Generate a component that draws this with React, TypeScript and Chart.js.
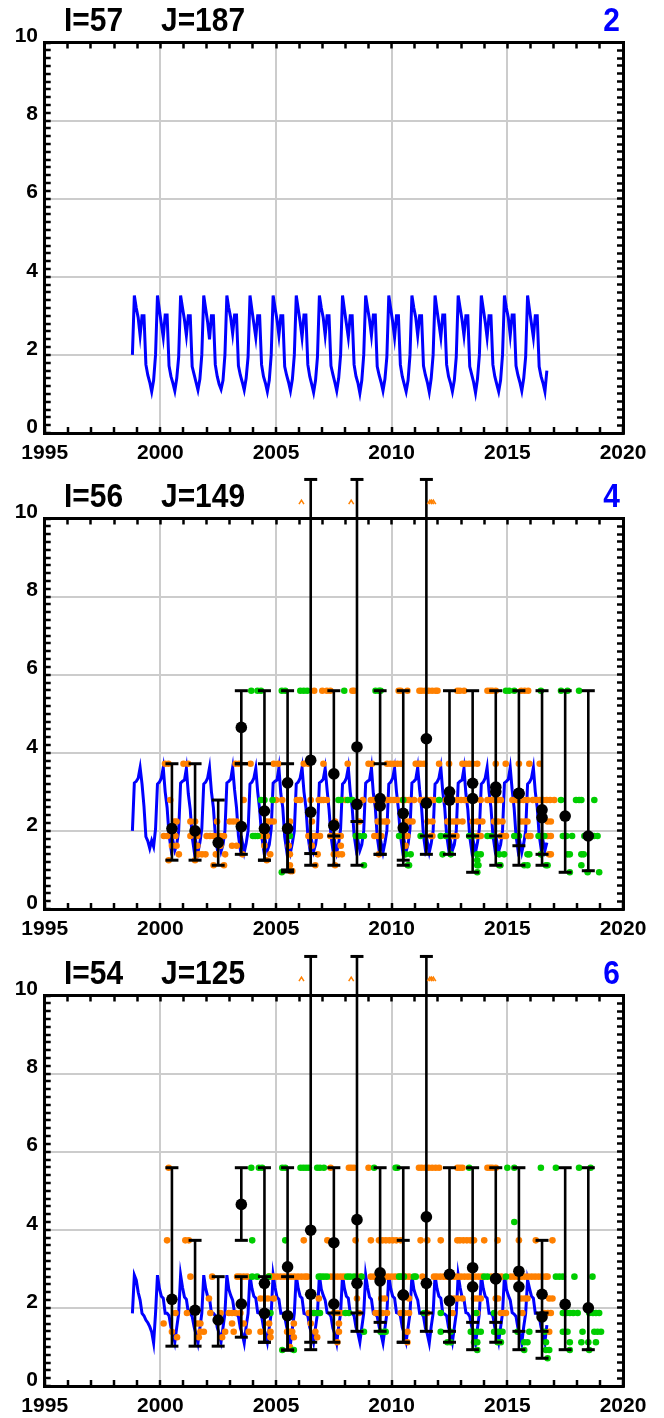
import React, { useEffect, useRef } from 'react';
import { Chart, registerables } from 'chart.js';

Chart.register(...registerables);

// ---------- axes ----------
const xMin = 1995;
const xMax = 2020;
const yMin = 0;
const yMax = 10;
const xTickLabels = [1995, 2000, 2005, 2010, 2015, 2020];
const yTickLabels = [0, 2, 4, 6, 8, 10];
const startYear = 1998 + 9.5 / 12; // first monthly value: Oct 1998

// ---------- panel 1 (I=57 J=187) ----------
const p1Blue = [
  2.0,
  3.52, 3.2, 2.95, 2.5, 3.0, 3.0, 1.75, 1.48, 1.3, 1.06, 1.35, 2.0,
  3.52, 3.15, 2.8, 2.45, 3.02, 3.02, 1.72, 1.45, 1.28, 1.08, 1.4, 1.95,
  3.52, 3.2, 2.9, 2.5, 3.0, 3.0, 1.7, 1.5, 1.3, 1.1, 1.38, 2.0,
  3.52, 3.18, 2.85, 2.4, 3.0, 3.0, 1.75, 1.45, 1.25, 1.12, 1.35, 2.0,
  3.52, 3.2, 2.95, 2.55, 3.02, 3.02, 1.72, 1.48, 1.3, 1.1, 1.4, 1.95,
  3.52, 3.15, 2.8, 2.45, 3.0, 3.0, 1.75, 1.45, 1.28, 1.06, 1.35, 2.0,
  3.52, 3.2, 2.9, 2.5, 3.0, 3.0, 1.7, 1.48, 1.3, 1.08, 1.38, 2.0,
  3.52, 3.18, 2.85, 2.45, 3.02, 3.02, 1.75, 1.45, 1.25, 1.04, 1.35, 1.95,
  3.52, 3.2, 2.95, 2.5, 3.0, 3.0, 1.72, 1.5, 1.3, 1.08, 1.4, 2.0,
  3.52, 3.15, 2.8, 2.45, 3.0, 3.0, 1.75, 1.45, 1.28, 1.02, 1.35, 2.0,
  3.52, 3.2, 2.9, 2.5, 3.02, 3.02, 1.7, 1.48, 1.3, 1.08, 1.38, 1.95,
  3.52, 3.18, 2.85, 2.45, 3.0, 3.0, 1.75, 1.45, 1.25, 1.06, 1.35, 2.0,
  3.52, 3.2, 2.95, 2.5, 3.0, 3.0, 1.72, 1.48, 1.3, 1.05, 1.4, 2.0,
  3.52, 3.15, 2.8, 2.45, 3.02, 3.02, 1.75, 1.45, 1.28, 1.06, 1.35, 1.95,
  3.52, 3.2, 2.9, 2.5, 3.0, 3.0, 1.7, 1.5, 1.3, 1.03, 1.38, 2.0,
  3.52, 3.18, 2.85, 2.45, 3.0, 3.0, 1.75, 1.45, 1.25, 1.06, 1.35, 2.0,
  3.52, 3.2, 2.95, 2.5, 3.02, 3.02, 1.72, 1.48, 1.3, 1.08, 1.4, 1.95,
  3.52, 3.15, 2.8, 2.45, 3.0, 3.0, 1.7, 1.45, 1.28, 1.06, 1.6,
];

// ---------- panel 2 (I=56 J=149) ----------
const p2Blue = [
  2.0,
  3.23, 3.27, 3.35, 3.62, 3.2, 2.63, 1.85, 1.74, 1.55, 1.75, 1.6, 2.05,
  3.2, 3.25, 3.35, 3.62, 3.0, 2.6, 1.9, 1.55, 1.75, 1.5, 1.65, 2.0,
  3.22, 3.27, 3.3, 3.6, 2.95, 2.55, 1.85, 1.5, 1.7, 1.45, 1.7, 2.05,
  3.2, 3.25, 3.35, 3.62, 3.0, 2.6, 1.9, 1.55, 1.75, 1.48, 1.65, 2.0,
  3.23, 3.27, 3.32, 3.62, 3.05, 2.6, 1.88, 1.52, 1.72, 1.45, 1.68, 2.0,
  3.2, 3.25, 3.35, 3.6, 3.0, 2.55, 1.9, 1.55, 1.75, 1.5, 1.65, 2.05,
  3.22, 3.27, 3.3, 3.62, 2.95, 2.6, 1.85, 1.5, 1.7, 1.45, 1.7, 2.0,
  3.2, 3.25, 3.35, 3.62, 3.0, 2.6, 1.9, 1.55, 1.75, 1.48, 1.65, 2.0,
  3.23, 3.27, 3.32, 3.6, 3.05, 2.55, 1.88, 1.52, 1.72, 1.45, 1.68, 2.05,
  3.2, 3.25, 3.35, 3.62, 3.0, 2.6, 1.9, 1.55, 1.75, 1.5, 1.65, 2.0,
  3.22, 3.27, 3.3, 3.62, 2.95, 2.6, 1.85, 1.5, 1.7, 1.45, 1.7, 2.0,
  3.2, 3.25, 3.35, 3.6, 3.0, 2.55, 1.9, 1.55, 1.75, 1.48, 1.65, 2.05,
  3.23, 3.27, 3.32, 3.62, 3.05, 2.6, 1.88, 1.52, 1.72, 1.45, 1.68, 2.0,
  3.2, 3.25, 3.35, 3.62, 3.0, 2.6, 1.9, 1.55, 1.75, 1.5, 1.65, 2.0,
  3.22, 3.27, 3.3, 3.6, 2.95, 2.55, 1.85, 1.5, 1.7, 1.45, 1.7, 2.05,
  3.2, 3.25, 3.35, 3.62, 3.0, 2.6, 1.9, 1.55, 1.75, 1.48, 1.65, 2.0,
  3.23, 3.27, 3.32, 3.62, 3.05, 2.6, 1.88, 1.52, 1.72, 1.45, 1.68, 2.0,
  3.2, 3.25, 3.35, 3.62, 3.0, 2.6, 1.9, 1.55, 1.75, 1.5, 1.7,
];

const p2OrangeLevels = [5.59, 3.72, 2.79, 2.24, 1.87, 1.62, 1.40, 1.25, 1.12, 0.97];
const p2OrangeYears = [
  [2006.65, 2007.0, 2007.2, 2007.35, 2008.3, 2008.38, 2010.3, 2010.39, 2010.68, 2011.2, 2011.3, 2011.45, 2011.6, 2011.75, 2011.9, 2011.98, 2012.84, 2012.95, 2013.13, 2014.14, 2014.25, 2014.35, 2014.5, 2015.6, 2015.75, 2015.9],
  [2000.2, 2000.35, 2001.0, 2001.2, 2003.25, 2003.4, 2003.9, 2004.9, 2005.1, 2006.2, 2006.4, 2007.05, 2008.1, 2009.0, 2009.15, 2009.8, 2009.95, 2010.1, 2010.25, 2010.4, 2011.04, 2011.15, 2011.25, 2011.4, 2012.05, 2012.48, 2013.06, 2013.2, 2013.35, 2013.5, 2013.7, 2014.5, 2014.93, 2015.5, 2015.95, 2016.4],
  [2000.43, 2003.6, 2005.0, 2005.27, 2005.9, 2006.05, 2006.5, 2006.85, 2006.95, 2007.05, 2007.2, 2008.0, 2008.75, 2009.1, 2009.25, 2009.4, 2009.8, 2009.95, 2010.1, 2010.25, 2010.46, 2010.6, 2010.75, 2010.97, 2011.25, 2011.4, 2011.55, 2011.7, 2011.83, 2012.34, 2012.63, 2012.84, 2013.0, 2013.15, 2013.3, 2013.45, 2013.6, 2013.85, 2014.14, 2014.3, 2014.45, 2014.6, 2014.72, 2015.22, 2015.4, 2015.55, 2015.7, 2015.87, 2016.1, 2016.25, 2016.4, 2016.55, 2016.7, 2016.85, 2017.03],
  [2000.6, 2000.7, 2001.3, 2001.5, 2002.45, 2003.0, 2003.15, 2003.3, 2004.6, 2004.75, 2004.9, 2005.6, 2006.55, 2007.55, 2008.6, 2009.4, 2009.55, 2009.7, 2009.8, 2010.6, 2010.75, 2010.9, 2011.55, 2011.76, 2012.41, 2012.55, 2012.7, 2012.85, 2013.06, 2013.5, 2013.7, 2013.92, 2014.43, 2014.6, 2014.79, 2015.6, 2015.75, 2015.87, 2016.74, 2016.88],
  [2000.15, 2000.3, 2000.65, 2001.3, 2001.6, 2002.0, 2002.15, 2002.3, 2002.5, 2002.6, 2002.75, 2004.35, 2004.45, 2004.6, 2006.4, 2006.55, 2006.7, 2006.9, 2007.35, 2007.5, 2007.65, 2007.8, 2009.25, 2009.4, 2009.55, 2010.39, 2010.55, 2010.68, 2011.7, 2011.76, 2012.65, 2012.8, 2013.7, 2013.85, 2014.72, 2014.85, 2014.94, 2015.9, 2016.0, 2016.74, 2016.88],
  [2000.5, 2000.7, 2001.6, 2002.6, 2003.1, 2003.3, 2004.5, 2005.55, 2006.55, 2007.8, 2010.6],
  [2000.8, 2001.65, 2001.8, 2001.95, 2002.4, 2002.8, 2003.55, 2004.75, 2005.6, 2006.8, 2007.5, 2007.7, 2007.85, 2009.45, 2016.8, 2016.88],
  [2000.36, 2001.5, 2004.6],
  [2002.3, 2002.75, 2005.6, 2006.7, 2007.55],
  [2005.62, 2005.7],
];
const p2GreenLevels = [5.59, 2.79, 1.87, 1.40, 1.25, 1.12, 0.94];
const p2GreenYears = [
  [2003.93, 2004.2, 2004.35, 2005.25, 2005.4, 2006.05, 2006.2, 2006.35, 2007.95, 2009.3, 2009.45, 2009.52, 2014.94, 2015.08, 2015.3, 2016.45, 2017.32, 2017.6, 2018.1],
  [2004.35, 2004.5, 2004.85, 2007.7, 2007.8, 2008.1, 2008.3, 2010.5, 2012.05, 2017.32, 2017.97, 2018.1, 2018.2, 2018.76],
  [2004.0, 2004.1, 2004.2, 2005.6, 2008.45, 2008.6, 2008.8, 2010.32, 2011.25, 2012.12, 2012.34, 2013.35, 2013.5, 2014.14, 2014.3, 2015.3, 2015.5, 2016.35, 2016.5, 2016.6, 2017.4, 2017.55, 2017.8, 2018.33, 2018.5, 2018.75, 2018.9],
  [2010.6, 2010.82, 2012.2, 2012.55, 2013.7, 2013.85, 2014.65, 2014.86, 2015.87, 2015.95, 2016.45, 2017.6, 2017.7, 2018.2, 2018.3],
  [2013.7],
  [2008.8, 2010.7, 2010.75, 2013.7, 2013.75, 2014.65, 2014.7, 2015.73, 2015.87, 2016.67, 2016.74, 2018.2],
  [2005.25, 2013.7, 2017.7, 2018.47, 2018.97],
];
const barYears = [2000.5, 2001.5, 2002.5, 2003.5, 2004.5, 2005.5, 2006.5, 2007.5, 2008.5, 2009.5, 2010.5, 2011.5, 2012.5, 2013.5, 2014.5, 2015.5, 2016.5, 2017.5, 2018.5];
const p2MeanA = [2.06, 2.0, 1.70, 4.65, 2.51, 3.23, 3.81, 3.46, 4.15, 2.83, 2.45, 4.36, 3.0, 3.22, 3.12, 2.96, 2.54, 2.38, 1.87];
const p2LoA = [1.25, 1.25, 1.12, 3.72, 1.25, 0.95, 1.12, 1.87, 2.24, 1.40, 1.12, 1.87, 1.40, 0.94, 1.12, 1.12, 1.12, 0.94, 0.98];
const p2HiA = [3.72, 3.72, 2.79, 5.59, 5.59, 5.59, 11.0, 5.59, 11.0, 5.59, 5.59, 11.0, 5.59, 5.59, 5.59, 5.59, 5.59, 5.59, 5.59];
const p2MeanB = [null, null, null, 2.11, 2.06, 2.06, 2.48, 2.14, 2.68, 2.64, 2.08, 2.71, 2.79, 2.83, 3.0, 2.96, 2.34, null, null];
const p2LoB = [null, null, null, 1.40, 1.25, 1.0, 1.42, 1.12, 1.12, 1.40, 1.25, 1.40, 1.87, 1.87, 1.87, 1.62, 1.40, null, null];
const p2HiB = [null, null, null, 3.72, 3.72, 3.72, null, null, null, 3.72, null, null, null, null, null, null, null, null, null];
const offScaleYears = [2006.1, 2008.25, 2011.65, 2011.72, 2011.8];
const offScaleValue = 10.42;

// ---------- panel 3 (I=54 J=125) ----------
const p3Blue = [
  1.86,
  2.84, 2.71, 2.4, 2.2, 1.86, 1.8, 1.69, 1.62, 1.52, 1.38, 1.1, 1.86,
  2.84, 2.5, 2.3, 2.25, 1.86, 1.86, 1.8, 1.5, 1.35, 1.12, 1.5, 1.86,
  2.84, 2.52, 2.28, 2.22, 1.88, 1.86, 1.78, 1.52, 1.32, 1.1, 1.48, 1.86,
  2.84, 2.5, 2.3, 2.25, 1.86, 1.86, 1.8, 1.5, 1.35, 1.14, 1.5, 1.86,
  2.84, 2.48, 2.32, 2.2, 1.86, 1.84, 1.78, 1.48, 1.33, 1.1, 1.52, 1.86,
  2.84, 2.5, 2.3, 2.25, 1.88, 1.86, 1.8, 1.5, 1.35, 1.12, 1.5, 1.86,
  2.84, 2.52, 2.28, 2.22, 1.86, 1.86, 1.78, 1.52, 1.32, 1.08, 1.48, 1.86,
  2.84, 2.5, 2.3, 2.25, 1.86, 1.84, 1.8, 1.5, 1.35, 1.12, 1.5, 1.86,
  2.84, 2.48, 2.32, 2.2, 1.88, 1.86, 1.78, 1.48, 1.33, 1.1, 1.52, 1.86,
  2.84, 2.5, 2.3, 2.25, 1.86, 1.86, 1.8, 1.5, 1.35, 1.12, 1.5, 1.86,
  2.84, 2.52, 2.28, 2.22, 1.86, 1.84, 1.78, 1.52, 1.32, 1.1, 1.48, 1.86,
  2.84, 2.5, 2.3, 2.25, 1.88, 1.86, 1.8, 1.5, 1.35, 1.14, 1.5, 1.86,
  2.84, 2.48, 2.32, 2.2, 1.86, 1.86, 1.78, 1.48, 1.33, 1.1, 1.52, 1.86,
  2.84, 2.5, 2.3, 2.25, 1.86, 1.84, 1.8, 1.5, 1.35, 1.12, 1.5, 1.86,
  2.84, 2.52, 2.28, 2.22, 1.88, 1.86, 1.78, 1.52, 1.32, 1.08, 1.48, 1.86,
  2.84, 2.5, 2.3, 2.25, 1.86, 1.86, 1.8, 1.5, 1.35, 1.12, 1.5, 1.86,
  2.84, 2.48, 2.32, 2.2, 1.88, 1.84, 1.78, 1.48, 1.33, 1.1, 1.52, 1.86,
  2.72, 2.5, 2.3, 2.25, 1.86, 1.86, 1.8, 1.5, 1.35, 1.12, 1.56,
];
const p3OrangeLevels = [5.59, 3.73, 2.80, 2.24, 1.87, 1.60, 1.39, 1.25, 1.12, 1.0];
const p3OrangeYears = [
  [2000.36, 2007.36, 2008.15, 2008.25, 2008.37, 2009.0, 2011.18, 2011.3, 2011.45, 2011.6, 2011.75, 2011.9, 2012.05, 2012.84, 2012.95, 2013.06, 2014.14, 2014.25, 2014.35, 2014.5],
  [2000.29, 2001.08, 2001.23, 2006.2, 2007.22, 2008.44, 2009.1, 2009.45, 2009.6, 2009.75, 2009.9, 2010.05, 2010.2, 2010.39, 2011.25, 2011.54, 2012.12, 2012.84, 2012.95, 2013.1, 2013.25, 2013.4, 2013.56, 2014.0, 2014.58, 2015.5, 2016.23, 2016.95],
  [2001.3, 2002.24, 2003.32, 2003.45, 2003.6, 2003.75, 2004.69, 2004.8, 2004.9, 2005.05, 2005.2, 2005.35, 2005.5, 2005.65, 2005.8, 2005.95, 2006.1, 2006.25, 2006.35, 2007.36, 2007.5, 2007.65, 2007.8, 2007.94, 2008.5, 2008.65, 2009.1, 2009.25, 2009.4, 2009.55, 2009.7, 2009.85, 2010.0, 2010.15, 2010.3, 2010.6, 2010.75, 2011.33, 2011.83, 2011.95, 2012.1, 2012.25, 2012.4, 2012.55, 2012.7, 2012.85, 2013.0, 2013.15, 2013.3, 2013.45, 2013.6, 2013.75, 2013.9, 2014.3, 2014.45, 2014.6, 2014.75, 2015.15, 2015.3, 2015.45, 2015.6, 2015.75, 2015.9, 2016.05, 2016.2, 2016.35, 2016.5, 2016.65, 2016.74],
  [2002.1, 2004.33, 2004.5, 2004.65, 2004.9, 2006.85, 2008.5, 2009.55, 2009.7, 2010.75, 2012.55, 2012.7, 2012.85, 2013.06, 2013.56, 2013.7, 2013.85, 2014.5, 2014.6, 2015.6, 2015.75, 2015.87, 2016.81, 2016.95],
  [2000.65, 2001.15, 2002.16, 2002.6, 2002.96, 2003.1, 2003.25, 2003.46, 2004.45, 2006.42, 2006.55, 2006.64, 2007.5, 2007.65, 2007.8, 2008.59, 2009.3, 2009.45, 2009.6, 2009.8, 2010.39, 2010.55, 2010.75, 2011.54, 2012.63, 2013.7, 2014.72, 2014.85, 2014.94, 2015.65, 2016.6, 2016.75, 2016.88],
  [2000.14, 2001.6, 2001.73, 2003.1, 2003.6, 2004.7, 2005.77, 2006.5, 2007.72],
  [2000.5, 2001.73, 2001.88, 2002.8, 2003.17, 2003.82, 2004.33, 2004.76, 2005.48, 2005.6, 2005.7, 2006.7, 2007.72, 2010.68, 2016.81],
  [2000.72, 2001.66, 2002.67, 2004.76, 2005.77, 2006.78],
  [2007.65, 2010.68],
  [2005.6],
];
const p3GreenLevels = [5.59, 4.2, 3.73, 2.80, 1.87, 1.39, 1.12, 0.92, 0.71];
const p3GreenYears = [
  [2003.93, 2004.26, 2004.4, 2005.27, 2005.4, 2006.06, 2006.18, 2006.3, 2006.42, 2006.78, 2006.9, 2007.07, 2009.24, 2010.17, 2010.25, 2013.35, 2015.0, 2015.3, 2016.45, 2017.1, 2018.1, 2018.6],
  [2015.3],
  [2003.97, 2005.4],
  [2003.97, 2004.18, 2004.69, 2006.85, 2006.95, 2007.07, 2007.2, 2008.08, 2008.2, 2008.37, 2008.7, 2010.32, 2010.42, 2010.53, 2010.96, 2011.04, 2014.0, 2014.14, 2014.94, 2017.1, 2017.25, 2017.4, 2017.9, 2018.68],
  [2004.6, 2004.76, 2006.64, 2006.78, 2006.9, 2008.0, 2008.15, 2011.4, 2012.12, 2013.65, 2014.43, 2017.4, 2017.55, 2017.7, 2017.85, 2018.04, 2018.54, 2018.7, 2018.83, 2018.97],
  [2008.8, 2009.52, 2009.67, 2009.74, 2012.12, 2012.55, 2013.42, 2013.55, 2013.7, 2013.85, 2014.43, 2014.6, 2014.79, 2015.44, 2015.95, 2016.6, 2017.4, 2017.6, 2018.25, 2018.76, 2018.9, 2019.05],
  [2012.41, 2012.55, 2013.56, 2013.7, 2014.58, 2014.72, 2015.73, 2015.87, 2016.67, 2017.7, 2018.2, 2018.5, 2018.83],
  [2005.27, 2005.77, 2013.7, 2015.73, 2016.67, 2016.81, 2017.7, 2018.54],
  [2016.74],
];
const p3MeanA = [2.22, 1.94, 1.69, 4.65, 2.63, 3.05, 3.99, 3.67, 4.26, 2.90, 2.33, 4.33, 2.86, 3.03, 2.75, 2.94, 2.35, 2.09, 2.0];
const p3LoA = [1.02, 1.02, 1.02, 3.73, 1.12, 0.92, 0.93, 1.12, 1.40, 1.40, 1.12, 1.40, 1.12, 0.93, 1.12, 0.93, 0.71, 0.93, 0.93];
const p3HiA = [5.59, 3.73, 2.80, 5.59, 5.59, 5.59, 11.0, 5.59, 11.0, 5.59, 5.59, 11.0, 5.59, 5.59, 5.59, 5.59, 3.73, 5.59, 5.59];
const p3MeanB = [null, null, null, 2.10, 1.86, 1.80, 2.35, 2.10, 2.63, 2.69, 2.33, 2.63, 2.18, 2.54, 2.74, 2.54, 1.77, null, null];
const p3LoB = [null, null, null, 1.25, 1.12, 0.92, 1.12, 1.87, 1.87, 1.63, 1.12, 1.87, 1.40, 1.63, 1.63, 1.40, 1.40, null, null];
const p3HiB = [null, null, null, 2.80, 2.80, 2.80, null, null, null, null, 3.73, null, null, null, null, null, 1.87, null, null];

// ---------- styling ----------
const BLUE = 'rgb(0,0,255)';
const ORANGE = 'rgb(255,128,0)';
const GREEN = 'rgb(0,205,0)';
const GRID = 'rgb(204,204,204)';
const FONT = '"Liberation Sans", Arial, sans-serif';

type PanelProps = {
  height: number;
  titleI: string;
  titleJ: string;
  num: string;
  blue: number[];
  orangeLevels?: number[];
  orangeYears?: number[][];
  greenLevels?: number[];
  greenYears?: number[][];
  meanA?: (number | null)[];
  loA?: (number | null)[];
  hiA?: (number | null)[];
  meanB?: (number | null)[];
  loB?: (number | null)[];
  hiB?: (number | null)[];
  offScale?: number[];
};

const near = (v: number, arr: number[]) => arr.some((a) => Math.abs(a - v) < 1e-6);

function levelPoints(levels?: number[], years?: number[][]) {
  const pts: { x: number; y: number }[] = [];
  if (!levels || !years) return pts;
  levels.forEach((lv, i) => (years[i] || []).forEach((yr) => pts.push({ x: yr, y: lv })));
  return pts;
}

function Panel(props: PanelProps) {
  const ref = useRef<HTMLCanvasElement | null>(null);
  useEffect(() => {
    const canvas = ref.current;
    if (!canvas) return;
    const H = props.height;
    const bluePts = props.blue.map((v, i) => ({ x: startYear + i / 12, y: v }));
    const meanPts: { x: number; y: number }[] = [];
    if (props.meanA) {
      barYears.forEach((yr, i) => {
        const a = props.meanA![i];
        if (a != null) meanPts.push({ x: yr, y: a });
        const b = props.meanB ? props.meanB[i] : null;
        if (b != null) meanPts.push({ x: yr, y: b });
      });
    }

    const titlePlugin = {
      id: 'panelTitle',
      afterDraw(chart: any) {
        const ctx = chart.ctx;
        const sx = 0.88;
        ctx.save();
        ctx.font = `bold 34px ${FONT}`;
        ctx.textBaseline = 'alphabetic';
        ctx.scale(sx, 1);
        ctx.textAlign = 'left';
        ctx.fillStyle = '#000';
        ctx.fillText(props.titleI, 64 / sx, 31);
        ctx.fillText(props.titleJ, 161 / sx, 31);
        ctx.textAlign = 'right';
        ctx.fillStyle = BLUE;
        ctx.fillText(props.num, 620 / sx, 31);
        ctx.restore();
      },
    };

    const barPlugin = {
      id: 'errorBars',
      afterDatasetsDraw(chart: any) {
        const ctx = chart.ctx;
        const xs = chart.scales.x;
        const ys = chart.scales.y;
        ctx.save();
        ctx.strokeStyle = '#000';
        const cap = (xp: number, v: number) => {
          const yp = ys.getPixelForValue(v);
          ctx.lineWidth = 3;
          ctx.beginPath();
          ctx.moveTo(xp - 6.5, yp);
          ctx.lineTo(xp + 6.5, yp);
          ctx.stroke();
        };
        const vline = (xp: number, a: number, b: number) => {
          ctx.lineWidth = 2.6;
          ctx.beginPath();
          ctx.moveTo(xp, ys.getPixelForValue(a));
          ctx.lineTo(xp, ys.getPixelForValue(b));
          ctx.stroke();
        };
        if (props.meanA) {
          barYears.forEach((yr, i) => {
            const xp = xs.getPixelForValue(yr);
            const lo = props.loA![i];
            const hi = props.hiA![i];
            if (lo != null && hi != null) {
              vline(xp, lo, hi);
              cap(xp, lo);
              cap(xp, hi);
            }
            const mb = props.meanB ? props.meanB[i] : null;
            const lb = props.loB ? props.loB[i] : null;
            const hb = props.hiB ? props.hiB[i] : null;
            if (mb != null && lb != null) {
              vline(xp, lb, hb != null ? hb : mb);
              cap(xp, lb);
              if (hb != null) cap(xp, hb);
            }
          });
        }
        if (props.offScale) {
          ctx.strokeStyle = ORANGE;
          ctx.lineWidth = 1.5;
          props.offScale.forEach((yr) => {
            const xp = xs.getPixelForValue(yr);
            const yp = ys.getPixelForValue(offScaleValue);
            ctx.beginPath();
            ctx.moveTo(xp - 2.5, yp + 2);
            ctx.lineTo(xp, yp - 2);
            ctx.lineTo(xp + 2.5, yp + 2);
            ctx.stroke();
          });
        }
        ctx.restore();
      },
    };

    const xTicks = {
      stepSize: 1,
      autoSkip: false,
      maxRotation: 0,
      minRotation: 0,
    };
    const yTicks = {
      stepSize: 0.2,
      maxTicksLimit: 100,
      autoSkip: false,
    };
    const tickFont = { family: FONT, size: 21, weight: 'bold' as const };

    const chart = new Chart(canvas, {
      type: 'scatter',
      data: {
        datasets: [
          {
            label: 'mean',
            data: meanPts,
            pointRadius: 5.8,
            pointBackgroundColor: '#000',
            pointBorderWidth: 0,
            order: 0,
          },
          {
            label: 'green',
            data: levelPoints(props.greenLevels, props.greenYears),
            pointRadius: 3.3,
            pointBackgroundColor: GREEN,
            pointBorderWidth: 0,
            order: 1,
          },
          {
            label: 'orange',
            data: levelPoints(props.orangeLevels, props.orangeYears),
            pointRadius: 3.3,
            pointBackgroundColor: ORANGE,
            pointBorderWidth: 0,
            order: 2,
          },
          {
            label: 'model',
            data: bluePts,
            showLine: true,
            borderColor: BLUE,
            borderWidth: 3,
            pointRadius: 0,
            tension: 0,
            order: 3,
          },
        ],
      },
      options: {
        responsive: false,
        animation: false,
        devicePixelRatio: 1,
        layout: { padding: 0 },
        plugins: { legend: { display: false }, tooltip: { enabled: false }, title: { display: false } },
        scales: {
          x: {
            type: 'linear',
            position: 'bottom',
            min: xMin,
            max: xMax,
            ticks: {
              ...xTicks,
              padding: 13.5,
              font: tickFont,
              color: '#000',
              callback: (v: any) => (near(Number(v), xTickLabels) ? String(Math.round(Number(v))) : ''),
            },
            grid: {
              color: (c: any) => {
                const v = c.tick ? c.tick.value : 0;
                return v > xMin && v < xMax && Math.abs(v % 5) < 1e-6 ? GRID : 'rgba(0,0,0,0)';
              },
              lineWidth: 2,
              tickColor: '#000',
              tickWidth: 2.5,
              tickLength: -6,
            },
            border: { display: true, color: '#000', width: 3 },
            afterFit: (s: any) => {
              s.height = H - 433;
            },
          },
          x2: {
            type: 'linear',
            position: 'top',
            min: xMin,
            max: xMax,
            ticks: { ...xTicks, display: false },
            grid: {
              drawOnChartArea: false,
              color: '#000',
              tickColor: '#000',
              tickWidth: 2.5,
              tickLength: -6,
            },
            border: { display: true, color: '#000', width: 3 },
            afterFit: (s: any) => {
              s.height = 42.5;
            },
          },
          y: {
            type: 'linear',
            position: 'left',
            min: yMin,
            max: yMax,
            ticks: {
              ...yTicks,
              padding: 12.7,
              labelOffset: -6,
              font: tickFont,
              color: '#000',
              callback: (v: any) => (near(Number(v), yTickLabels) ? String(Math.round(Number(v))) : ''),
            },
            grid: {
              color: (c: any) => {
                const v = c.tick ? c.tick.value : 0;
                return v > yMin + 1e-6 && v < yMax - 1e-6 && near(v, yTickLabels) ? GRID : 'rgba(0,0,0,0)';
              },
              lineWidth: 2,
              tickColor: '#000',
              tickWidth: 2.5,
              tickLength: -6,
            },
            border: { display: true, color: '#000', width: 3 },
            afterFit: (s: any) => {
              s.width = 44.7;
            },
          },
          y2: {
            type: 'linear',
            position: 'right',
            min: yMin,
            max: yMax,
            ticks: { ...yTicks, display: false },
            grid: {
              drawOnChartArea: false,
              color: '#000',
              tickColor: '#000',
              tickWidth: 2.5,
              tickLength: -6,
            },
            border: { display: true, color: '#000', width: 3 },
            afterFit: (s: any) => {
              s.width = 41;
            },
          },
        },
      } as any,
      plugins: [titlePlugin, barPlugin],
    });
    return () => chart.destroy();
  }, []);
  return (
    <canvas
      ref={ref}
      width={664}
      height={props.height}
      style={{ display: 'block', width: 664, height: props.height }}
    />
  );
}

export default function App() {
  return (
    <div style={{ position: 'absolute', left: 0, top: 0, width: 664, height: 1418, background: '#fff' }}>
      <div style={{ position: 'absolute', left: 0, top: 0 }}>
        <Panel height={477} titleI="I=57" titleJ="J=187" num="2" blue={p1Blue} />
      </div>
      <div style={{ position: 'absolute', left: 0, top: 476 }}>
        <Panel
          height={477}
          titleI="I=56"
          titleJ="J=149"
          num="4"
          blue={p2Blue}
          orangeLevels={p2OrangeLevels}
          orangeYears={p2OrangeYears}
          greenLevels={p2GreenLevels}
          greenYears={p2GreenYears}
          meanA={p2MeanA}
          loA={p2LoA}
          hiA={p2HiA}
          meanB={p2MeanB}
          loB={p2LoB}
          hiB={p2HiB}
          offScale={offScaleYears}
        />
      </div>
      <div style={{ position: 'absolute', left: 0, top: 953 }}>
        <Panel
          height={465}
          titleI="I=54"
          titleJ="J=125"
          num="6"
          blue={p3Blue}
          orangeLevels={p3OrangeLevels}
          orangeYears={p3OrangeYears}
          greenLevels={p3GreenLevels}
          greenYears={p3GreenYears}
          meanA={p3MeanA}
          loA={p3LoA}
          hiA={p3HiA}
          meanB={p3MeanB}
          loB={p3LoB}
          hiB={p3HiB}
          offScale={offScaleYears}
        />
      </div>
    </div>
  );
}
